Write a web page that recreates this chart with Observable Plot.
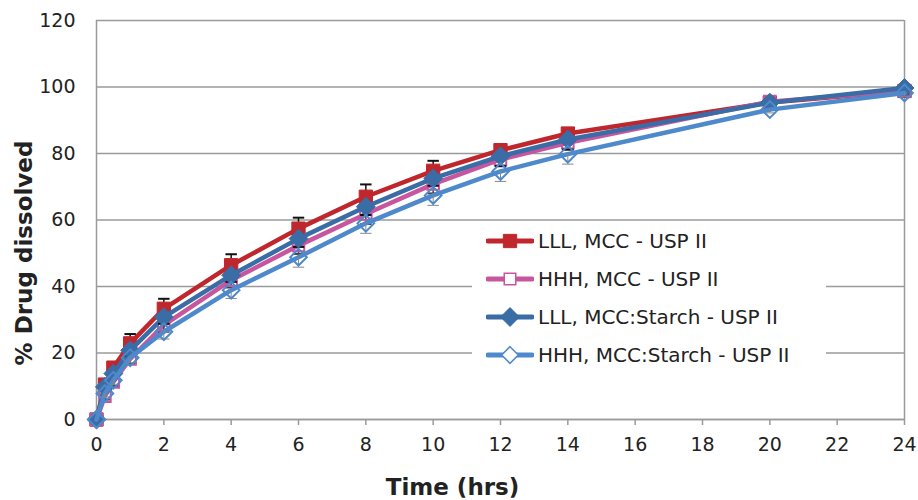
<!DOCTYPE html>
<html>
<head>
<meta charset="utf-8">
<script src="https://cdn.jsdelivr.net/npm/d3@7"></script>
<script src="https://cdn.jsdelivr.net/npm/@observablehq/plot@0.6"></script>
<style>
  body { margin: 0; background: #fff; font-family: "DejaVu Sans", sans-serif; }
  #wrap { position: relative; width: 918px; height: 500px; }
  #legend { position: absolute; background: #fff; }
  .lg-row { display: flex; align-items: center; height: 38px; font-size: 20px; color: #222; }
  .lg-row svg { margin-right: 4px; }
</style>
</head>
<body>
<div id="wrap"></div>
<script>
// ---- data ----
const time = [0, 0.25, 0.5, 1, 2, 4, 6, 8, 10, 12, 14, 20, 24];
const seriesNames = [
  "LLL, MCC - USP II",
  "HHH, MCC - USP II",
  "LLL, MCC:Starch - USP II",
  "HHH, MCC:Starch - USP II"
];
const lllMcc        = [0, 10.5, 15.6, 22.9, 33.3, 46.4, 57.4, 67.0, 74.8, 81.0, 86.0, 95.3, 98.8];
const hhhMcc        = [0, 7.0, 11.3, 18.2, 28.4, 41.9, 52.3, 61.8, 70.8, 78.2, 83.2, 95.6, 98.9];
const lllMccStarch  = [0, 9.8, 13.8, 20.8, 30.8, 43.4, 54.4, 64.0, 72.5, 79.2, 84.2, 95.3, 99.7];
const hhhMccStarch  = [0, 7.8, 11.8, 18.6, 26.4, 38.9, 48.8, 59.0, 67.4, 74.6, 79.8, 93.2, 98.2];
// error bar half-widths (red drawn upward, others downward as visible)
const errLllMcc       = [0, 1.0, 1.0, 2.8, 3.0, 3.3, 3.3, 3.7, 3.0, 1.8, 1.6, 0.8, 1.0];
const errHhhMcc       = [0, 1.0, 1.2, 1.5, 2.0, 2.2, 2.5, 3.0, 2.8, 2.0, 2.0, 1.0, 1.0];
const errLllMccStarch = [0, 1.0, 1.0, 1.5, 2.0, 2.0, 2.5, 2.5, 2.2, 3.0, 3.0, 0.8, 1.0];
const errHhhMccStarch = [0, 1.0, 1.2, 1.5, 2.2, 2.5, 3.0, 3.0, 3.0, 3.0, 3.0, 1.0, 1.0];
const yTicks = [0, 20, 40, 60, 80, 100, 120];
const xTicks = [0, 2, 4, 6, 8, 10, 12, 14, 16, 18, 20, 22, 24];

const colors  = ["#C0272D", "#C6579F", "#3A6CA6", "#4E89CB"];
const symbols = ["square", "square", "diamond2", "diamond2"];
const filled  = [true, false, true, false];
const radii   = [7.5, 6.5, 8.5, 7.5];
const errDir  = [1, -1, -1, -1];
const errColor = ["#111", "#444", "#111", "#888"];

const values = [lllMcc, hhhMcc, lllMccStarch, hhhMccStarch];
const errs   = [errLllMcc, errHhhMcc, errLllMccStarch, errHhhMccStarch];

const series = seriesNames.map((name, i) => ({
  name, i,
  rows: time.map((t, j) => ({t, v: values[i][j], e: errs[i][j], name}))
}));

const marks = [
  Plot.gridY(yTicks, {stroke: "#9a9a9a", strokeOpacity: 1, strokeWidth: 1.5}),
  Plot.ruleX([0, 24], {stroke: "#9a9a9a", strokeWidth: 1.5}),
  Plot.ruleY([0], {stroke: "#9a9a9a", strokeWidth: 1.5}),
  Plot.axisY(yTicks, {tickSize: 0, tickPadding: 21, fontSize: 19, fill: "#222", label: null}),
  Plot.axisX(xTicks, {tickSize: 6, tickPadding: 12, fontSize: 19, fill: "#222", stroke: "#9a9a9a", strokeWidth: 1.5, label: null}),
];

series.forEach(s => {
  const i = s.i;
  const rowsE = s.rows.filter(d => d.e > 0);
  const tip = d => d.v + errDir[i] * d.e;
  marks.push(
    Plot.line(s.rows, {x: "t", y: "v", stroke: colors[i], strokeWidth: 4.5, strokeLinejoin: "round"}),
    Plot.ruleX(rowsE, {x: "t", y1: "v", y2: tip, stroke: errColor[i], strokeWidth: i === 3 ? 1 : 1.5}),
    Plot.link(rowsE, {x1: d => d.t - 0.17, x2: d => d.t + 0.17, y1: tip, y2: tip, stroke: errColor[i], strokeWidth: i === 3 ? 1 : 2}),
    Plot.dot(s.rows, {
      x: "t", y: "v", symbol: symbols[i], r: radii[i],
      fill: filled[i] ? colors[i] : "white",
      fillOpacity: filled[i] ? 1 : 0,
      stroke: colors[i], strokeWidth: filled[i] ? 1 : 2
    })
  );
});

marks.push(
  Plot.text(["Time (hrs)"], {frameAnchor: "bottom", textAnchor: "middle", dx: -48, dy: 75, fontSize: 23, fontWeight: "bold", fill: "#222"}),
  Plot.text(["% Drug dissolved"], {frameAnchor: "left", textAnchor: "middle", dx: -72, dy: 33, rotate: -90, fontSize: 23, fontWeight: "bold", fill: "#222"})
);

const chart = Plot.plot({
  width: 918,
  height: 500,
  marginLeft: 96,
  marginRight: 14,
  marginTop: 20,
  marginBottom: 81,
  style: {fontFamily: "DejaVu Sans, sans-serif", background: "white", overflow: "visible"},
  x: {domain: [0, 24]},
  y: {domain: [0, 120]},
  marks
});

const wrap = document.getElementById("wrap");
wrap.appendChild(chart);

// legend (inside the plot area, over a white box)
const legend = document.createElement("div");
legend.id = "legend";
legend.style.left = "472px";
legend.style.top = "222px";
legend.style.width = "340px";
legend.style.padding = "0 0 0 14px";
seriesNames.forEach((name, i) => {
  const row = document.createElement("div");
  row.className = "lg-row";
  const sym = d3.symbol(i < 2 ? d3.symbolSquare : d3.symbolDiamond2, Math.PI * radii[i] * radii[i])();
  const fill = filled[i] ? colors[i] : "white";
  row.innerHTML =
    `<svg width="48" height="24" viewBox="0 0 48 24">
       <line x1="2" x2="46" y1="12" y2="12" stroke="${colors[i]}" stroke-width="5" stroke-linecap="round"/>
       <path d="${sym}" transform="translate(24,12)" fill="${fill}" stroke="${colors[i]}" stroke-width="${filled[i] ? 1 : 1.5}"/>
     </svg><span>${name}</span>`;
  legend.appendChild(row);
});
wrap.appendChild(legend);
</script>
</body>
</html>
